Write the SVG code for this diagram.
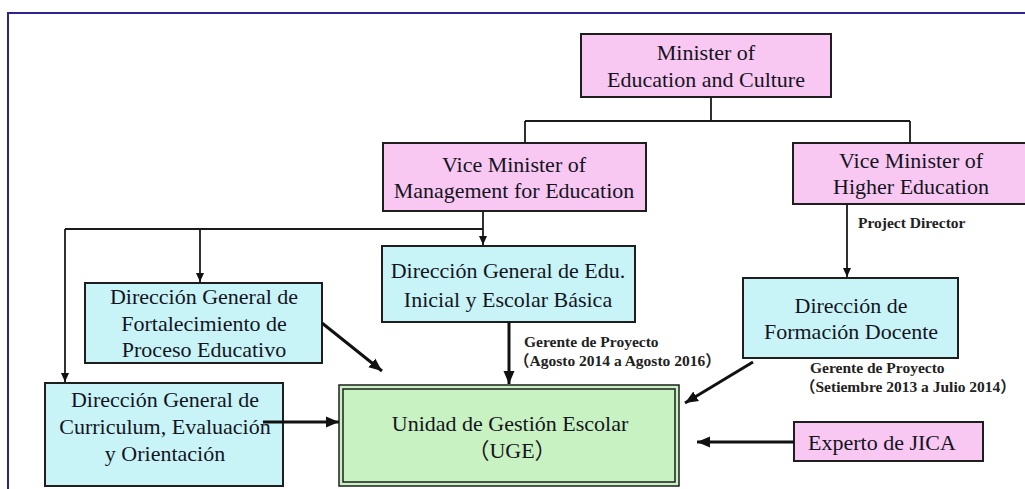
<svg xmlns="http://www.w3.org/2000/svg" width="1025" height="489" viewBox="0 0 1025 489">
<defs>
<marker id="ah" markerUnits="userSpaceOnUse" markerWidth="10" markerHeight="10" refX="9" refY="5" orient="auto"><path d="M0,1 L9,5 L0,9 z" fill="#111"/></marker>
<marker id="ahb" markerUnits="userSpaceOnUse" markerWidth="14" markerHeight="14" refX="13" refY="7" orient="auto"><path d="M0,1.5 L13,7 L0,12.5 z" fill="#111"/></marker>
</defs>
<style>
.box{stroke:#1e1e1e;stroke-width:2}
.pink{fill:#f8c8f2}
.cyan{fill:#c8f4f8}
.green{fill:#c9f2c2}
.t{font-family:"Liberation Serif","Times New Roman",serif;font-size:22px;fill:#14141e;text-anchor:middle}
.lbl{font-family:"Liberation Serif","Noto Sans CJK JP",serif;font-size:15.5px;font-weight:bold;fill:#222}
.thin{stroke:#1a1a1a;stroke-width:1.8;fill:none}
.thick{stroke:#111;stroke-width:3;fill:none}
</style>
<rect x="0" y="0" width="1025" height="489" fill="#ffffff"/>
<rect x="8" y="13" width="1100" height="600" fill="none" stroke="#2c2490" stroke-width="2"/>

<g id="minister">
<rect class="box pink" x="581" y="34" width="250" height="63"/>
<text class="t" x="706" y="60">Minister of</text>
<text class="t" x="706" y="87">Education and Culture</text>
</g>

<g id="vm-management">
<rect class="box pink" x="383" y="143" width="263" height="68"/>
<text class="t" x="514" y="172">Vice Minister of</text>
<text class="t" x="514" y="198">Management for Education</text>
</g>

<g id="vm-higher">
<rect class="box pink" x="793" y="143" width="250" height="61"/>
<text class="t" x="911" y="168">Vice Minister of</text>
<text class="t" x="911" y="194">Higher Education</text>
</g>

<text class="lbl" x="858" y="228">Project Director</text>

<g id="dg-edu">
<rect class="box cyan" x="382" y="246" width="253" height="76"/>
<text class="t" x="508" y="278">Dirección General de Edu.</text>
<text class="t" x="508" y="307">Inicial y Escolar Básica</text>
</g>

<g id="dg-fortalecimiento">
<rect class="box cyan" x="85" y="283" width="237" height="80"/>
<text class="t" x="204" y="304">Dirección General de</text>
<text class="t" x="204" y="331">Fortalecimiento de</text>
<text class="t" x="204" y="357">Proceso Educativo</text>
</g>

<g id="formacion">
<rect class="box cyan" x="743" y="278" width="215" height="80"/>
<text class="t" x="851" y="313">Dirección de</text>
<text class="t" x="851" y="339">Formación Docente</text>
</g>

<text class="lbl" x="524" y="347">Gerente de Proyecto</text>
<text class="lbl" x="514" y="366">（Agosto 2014 a Agosto 2016）</text>

<text class="lbl" x="810" y="373">Gerente de Proyecto</text>
<text class="lbl" x="800" y="392">（Setiembre 2013 a Julio 2014）</text>

<g id="dg-curriculum">
<rect class="box cyan" x="45" y="383" width="238" height="103"/>
<text class="t" x="165" y="407">Dirección General de</text>
<text class="t" x="165" y="434">Curriculum, Evaluación</text>
<text class="t" x="165" y="461">y Orientación</text>
</g>

<g id="uge">
<rect class="green" x="339" y="385" width="340" height="101" stroke="#1e1e1e" stroke-width="1.5"/>
<rect x="343" y="389" width="332" height="93" fill="none" stroke="#1e1e1e" stroke-width="1.5"/>
<text class="t" x="510" y="431">Unidad de Gestión Escolar</text>
<text class="t" x="512" y="458" style="font-family:'Liberation Serif','Noto Sans CJK JP',serif">（UGE）</text>
</g>

<g id="jica">
<rect class="box pink" x="794" y="422" width="189" height="39"/>
<text class="t" x="882" y="450">Experto de JICA</text>
</g>

<g id="connectors">
<path class="thin" d="M711,97 V121 M525,121 H910 M525,121 V143 M910,121 V143"/>
<path class="thin" d="M483,211 V245" marker-end="url(#ah)"/>
<path class="thin" d="M65,229 H483"/>
<path class="thin" d="M200,229 V282" marker-end="url(#ah)"/>
<path class="thin" d="M65,229 V382" marker-end="url(#ah)"/>
<path class="thin" d="M847,204 V277" marker-end="url(#ah)"/>
<path class="thick" d="M509,322 V384" marker-end="url(#ahb)"/>
<path class="thick" d="M322,323 L382,371" marker-end="url(#ahb)"/>
<path class="thick" d="M753,362 L685,403" marker-end="url(#ahb)"/>
<path class="thick" d="M263,422 H339" marker-end="url(#ahb)"/>
<path class="thick" d="M794,442 H697" marker-end="url(#ahb)"/>
</g>
</svg>
